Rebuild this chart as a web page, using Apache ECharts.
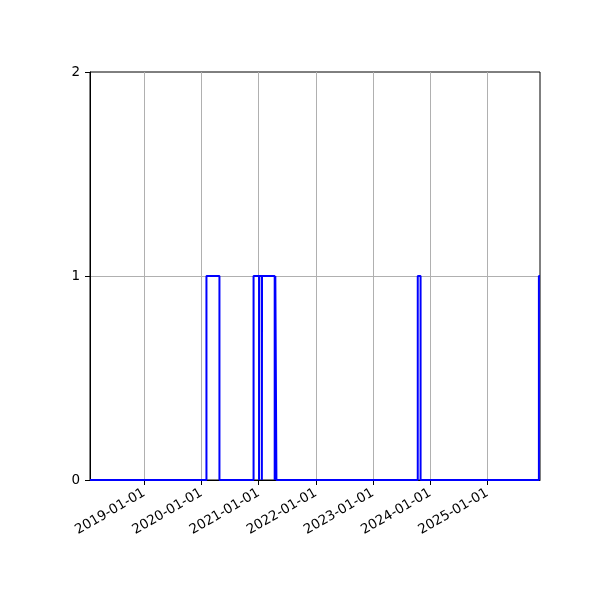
<!DOCTYPE html>
<html>
<head>
<meta charset="utf-8">
<script src="https://cdn.jsdelivr.net/npm/echarts@6/dist/echarts.min.js"></script>
<style>html,body{margin:0;padding:0;background:#fff}#c{width:600px;height:600px}</style>
</head>
<body>
<div id="c"></div>
<script>
// Step series: value holds from each date until the next date
const dates = ['2018-01-19','2020-02-02','2020-04-25','2020-11-29','2021-01-03','2021-01-04','2021-01-21','2021-01-22','2021-04-13','2021-04-17','2021-04-24','2023-10-14','2023-11-01','2025-11-26','2025-12-03'];
const values = [0,1,0,1,0,1,0,1,0,1,0,1,0,1,1];
const xTickLabels = ['2019-01-01','2020-01-01','2021-01-01','2022-01-01','2023-01-01','2024-01-01','2025-01-01'];
const yTicks = [0,1,2];
const xRange = ['2018-01-19','2025-12-03'];

function ts(s){const p=s.split('-').map(Number);return Date.UTC(p[0],p[1]-1,p[2]);}
const xTickVals = xTickLabels.map(ts);
const data = dates.map((d,i)=>[ts(d), values[i]]);

const chart = echarts.init(document.getElementById('c'), null, {renderer:'canvas'});
const font = 'DejaVu Sans';
chart.setOption({
  backgroundColor:'#ffffff',
  animation:false,
  grid:{left:90,right:60,top:72,bottom:120,show:true,borderColor:'#000',borderWidth:1,backgroundColor:'transparent'},
  xAxis:{
    type:'value', min:ts(xRange[0]), max:ts(xRange[1]),
    axisLine:{show:true,lineStyle:{color:'#000',width:1}},
    axisTick:{show:true,length:5,lineStyle:{color:'#000',width:1},customValues:xTickVals},
    axisLabel:{show:true,rotate:30,margin:12,color:'#000',fontFamily:font,fontSize:13.5,customValues:xTickVals,
      formatter:function(v){const d=new Date(v);return d.getUTCFullYear()+'-01-01';}},
    splitLine:{show:false}
  },
  yAxis:{
    type:'value', min:yTicks[0], max:yTicks[yTicks.length-1], interval:1,
    axisLine:{show:true,lineStyle:{color:'#000',width:1}},
    axisTick:{show:true,length:5,lineStyle:{color:'#000',width:1}},
    axisLabel:{color:'#000',fontFamily:font,fontSize:13.5,margin:10},
    splitLine:{show:true,showMaxLine:false,showMinLine:false,lineStyle:{color:'#b0b0b0',width:1}}
  },
  series:[
    {type:'line',data:[],z:1,silent:true,
      markLine:{z:1,silent:true,symbol:['none','none'],label:{show:false},
        lineStyle:{color:'#b0b0b0',width:1,type:'solid'},
        data:xTickVals.map(v=>({xAxis:v}))}},
    {type:'line',data:data,step:'end',showSymbol:false,z:3,
      lineStyle:{color:'#0000ff',width:2},itemStyle:{color:'#0000ff'}}
  ]
});
</script>
</body>
</html>
